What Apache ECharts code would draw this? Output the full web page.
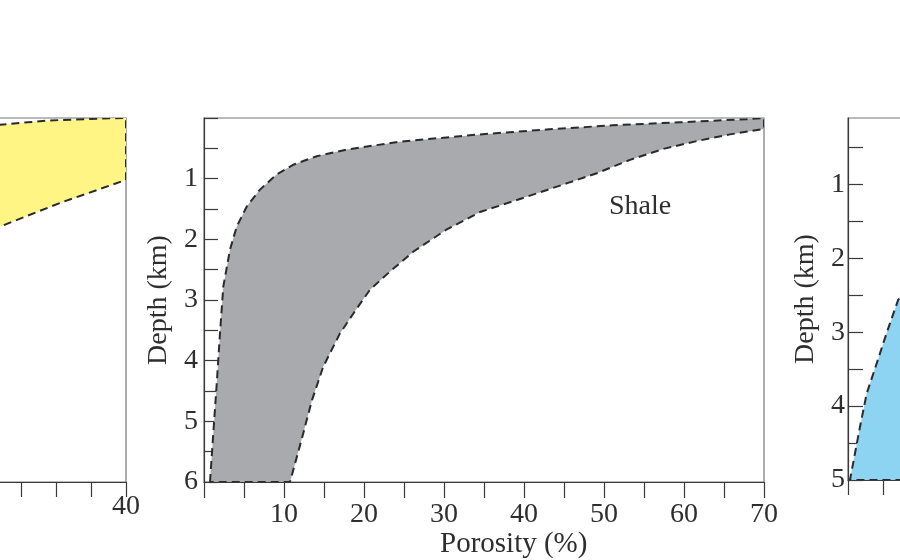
<!DOCTYPE html>
<html>
<head>
<meta charset="utf-8">
<script src="https://cdn.jsdelivr.net/npm/echarts@6/dist/echarts.min.js"></script>
<style>html,body{margin:0;padding:0;background:#fff}#c{width:900px;height:560px}</style>
</head>
<body>
<div id="c"></div>
<script>
// ---- Data (porosity %, depth km) ----
const sandUpper = [[29, 0.16], [30.97, 0.11], [34.55, 0.04], [38.1, 0.01], [40, 0]];
const sandLower = [[40, 1.02], [35.27, 1.40], [30.97, 1.79], [29, 1.97]];

const shaleUpper = [[0.75, 6.0], [1.16, 5.2], [1.59, 4.38], [2.0, 3.55], [2.41, 2.78], [3.25, 2.17], [4.09, 1.79], [5.34, 1.46], [7.0, 1.18], [9.09, 0.93], [11.16, 0.77], [14.09, 0.63], [17.84, 0.52], [24.5, 0.39], [34.5, 0.27], [42.8, 0.19], [51.1, 0.12], [59.5, 0.07], [67.8, 0.02], [70, 0]];
const shaleLower = [[70, 0.18], [65.75, 0.27], [61.6, 0.38], [57.4, 0.51], [53.25, 0.69], [49.1, 0.91], [45.5, 1.07], [42.8, 1.19], [38.7, 1.37], [34.5, 1.55], [30.3, 1.84], [26.2, 2.2], [23.25, 2.53], [20.75, 2.83], [19.1, 3.14], [17.0, 3.55], [14.9, 4.1], [13.5, 4.65], [12.4, 5.2], [11.6, 5.59], [10.75, 6.0]];

const carbLeft = [[4.2, 2.4], [3.6, 2.56], [2.77, 3.01], [2.06, 3.42], [1.34, 3.83], [0.86, 4.28], [0.14, 5.0]];
const carbBottom = [[0.14, 5.0], [8, 5.0], [8, 2.4]];

const depthTicksRight = [0.5, 1, 1.5, 2, 2.5, 3, 3.5, 4, 4.5, 5];
const depthLabelsRight = [1, 2, 3, 4, 5];

const sandPoly = sandUpper.concat(sandLower);
const shalePoly = shaleUpper.concat(shaleLower);
const carbPoly = carbLeft.concat(carbBottom.slice(1));

const FONT = 'Liberation Serif';
const TXT = '#2e2e2e';
const AX = '#3a3a3a';

function polySeries(idx, pts, fill) {
  return {
    type: 'custom',
    xAxisIndex: idx, yAxisIndex: idx,
    clip: true,
    silent: true,
    data: pts,
    encode: { x: 0, y: 1 },
    renderItem: function (params, api) {
      if (params.dataIndex !== 0) return;
      const p = pts.map(function (d) { return api.coord(d); });
      return {
        type: 'polygon',
        shape: { points: p },
        style: { fill: fill, stroke: '#2a2a2a', lineWidth: 2, lineDash: [8, 5] }
      };
    }
  };
}

function xAx(idx, max, tickLen, margin) {
  return {
    gridIndex: idx, type: 'value', min: 0, max: max, interval: idx === 1 ? 5 : 2.5,
    axisLine: { onZero: false, lineStyle: { color: AX, width: 1.2 } },
    axisTick: { inside: false, length: tickLen, lineStyle: { color: AX, width: 1.2 } },
    axisLabel: {
      margin: margin, fontFamily: FONT, fontSize: 28, color: TXT,
      formatter: function (v) { return (v > 0 && Math.abs(v % 10) < 1e-9) ? String(v) : ''; }
    },
    splitLine: { show: false }
  };
}

const gridBase = { show: true, borderColor: '#777', borderWidth: 1.2, containLabel: false, outerBoundsMode: 'none' };

const option = {
  animation: false,
  backgroundColor: '#fff',
  grid: [
    Object.assign({ left: -432, width: 558, top: 118, height: 364 }, gridBase),
    Object.assign({ left: 204, width: 560, top: 118, height: 364 }, gridBase),
    Object.assign({ left: 848, width: 558, top: 118, height: 362 }, gridBase)
  ],
  xAxis: [
    xAx(0, 40, 15, 11),
    xAx(1, 70, 16, 19),
    xAx(2, 40, 15, 7)
  ],
  yAxis: [
    {
      gridIndex: 0, type: 'value', min: 0, max: 6, interval: 0.5, inverse: true,
      axisLine: { lineStyle: { color: AX } }, axisTick: { inside: true, length: 14 },
      axisLabel: { show: false }, splitLine: { show: false }
    },
    {
      gridIndex: 1, type: 'value', min: 0, max: 6, interval: 0.5, inverse: true,
      name: 'Depth (km)', nameLocation: 'middle', nameGap: 24,
      nameTextStyle: { fontFamily: FONT, fontSize: 28, color: TXT },
      axisLine: { lineStyle: { color: AX, width: 1.2 } },
      axisTick: { inside: true, length: 14, lineStyle: { color: AX, width: 1.2 } },
      axisLabel: {
        margin: 6, fontFamily: FONT, fontSize: 28, color: TXT,
        formatter: function (v) { return (v > 0 && Number.isInteger(v)) ? String(v) : ''; }
      },
      splitLine: { show: false }
    },
    {
      gridIndex: 2, type: 'value', min: 0.1, max: 5, inverse: true,
      name: 'Depth (km)', nameLocation: 'middle', nameGap: 27,
      nameTextStyle: { fontFamily: FONT, fontSize: 28, color: TXT },
      axisLine: { lineStyle: { color: AX, width: 1.2 } },
      axisTick: { inside: true, length: 15, customValues: depthTicksRight, lineStyle: { color: AX, width: 1.2 } },
      axisLabel: {
        margin: 3, fontFamily: FONT, fontSize: 28, color: TXT, customValues: depthLabelsRight
      },
      splitLine: { show: false }
    }
  ],
  graphic: [
    { type: 'text', left: 609, top: 193, style: { text: 'Shale', font: '28px "Liberation Serif"', fill: TXT } },
    { type: 'text', left: 440, top: 530, style: { text: 'Porosity (%)', font: '29px "Liberation Serif"', fill: TXT } }
  ],
  series: [
    polySeries(0, sandPoly, '#fff585'),
    polySeries(1, shalePoly, '#a8aaad'),
    polySeries(2, carbPoly, '#8dd3f2')
  ]
};

const chart = echarts.init(document.getElementById('c'), null, { renderer: 'canvas' });
chart.setOption(option);
</script>
</body>
</html>
